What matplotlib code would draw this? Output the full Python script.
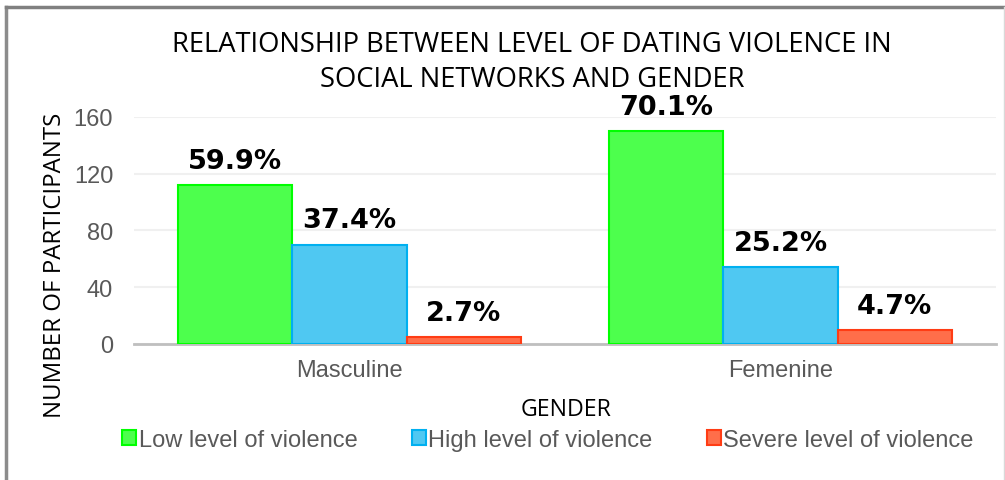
import matplotlib
matplotlib.use('Agg')
import matplotlib.pyplot as plt
import numpy as np
from matplotlib.patches import Rectangle

# data
genders = ['Masculine', 'Femenine']
levels = ['Low level of violence', 'High level of violence', 'Severe level of violence']
counts = {
    'Low level of violence': [112, 150],
    'High level of violence': [70, 54],
    'Severe level of violence': [5, 10],
}
pct_labels = {
    'Low level of violence': ['59.9%', '70.1%'],
    'High level of violence': ['37.4%', '25.2%'],
    'Severe level of violence': ['2.7%', '4.7%'],
}
yticks = [0, 40, 80, 120, 160]

fills = ['#4dff4d', '#4fc8f2', '#ff6e4a']
edges = ['#00ff00', '#00b0f0', '#ff3c14']

title_font = ['Liberation Sans Narrow', 'Open Sans', 'DejaVu Sans']
gray = '#595959'

fig = plt.figure(figsize=(10.05, 4.81), dpi=100)
ax = fig.add_axes([134 / 1005, 1 - 345 / 481, 862 / 1005, (345 - 117.7) / 481])

x = np.arange(len(genders))
width = 0.265
for i, lvl in enumerate(levels):
    pos = x + (i - 1) * width
    bars = ax.bar(pos, counts[lvl], width, color=fills[i], edgecolor=edges[i],
                  linewidth=1.5, label=lvl, zorder=3)
    for b, txt in zip(bars, pct_labels[lvl]):
        ax.annotate(txt, (b.get_x() + b.get_width() / 2, b.get_height()),
                    xytext=(0, 8), textcoords='offset points', ha='center', va='bottom',
                    fontsize=19.5, fontweight='bold', family='DejaVu Sans', color='black')

ax.set_xlim(-0.5, 1.5)
ax.set_ylim(0, 160)
ax.set_yticks(yticks)
ax.set_xticks(x)
ax.set_xticklabels(genders)
ax.grid(axis='y', color='#f0f0f0', linewidth=1.5, zorder=0)
ax.tick_params(axis='both', length=0, labelsize=17, labelcolor=gray)
ax.tick_params(axis='y', pad=15)
ax.tick_params(axis='x', pad=11)
for lab in ax.get_xticklabels() + ax.get_yticklabels():
    lab.set_family('Liberation Sans')
for s in ['top', 'right', 'left']:
    ax.spines[s].set_visible(False)
ax.spines['bottom'].set_color('#bfbfbf')
ax.spines['bottom'].set_linewidth(2)

fig.text(532 / 1005, 1 - 45 / 481, 'RELATIONSHIP BETWEEN LEVEL OF DATING VIOLENCE IN',
         ha='center', va='center', fontsize=19.7, family=title_font)
fig.text(532 / 1005, 1 - 80 / 481, 'SOCIAL NETWORKS AND GENDER',
         ha='center', va='center', fontsize=19.7, family=title_font)
fig.text(55 / 1005, 1 - 265 / 481, 'NUMBER OF PARTICIPANTS', rotation=90,
         ha='center', va='center', fontsize=17.3, family=title_font)
fig.text(566 / 1005, 1 - 410 / 481, 'GENDER', ha='center', va='center',
         fontsize=16.7, family=title_font)

handles = [Rectangle((0, 0), 1, 1, facecolor=fills[i], edgecolor=edges[i], linewidth=1.5)
           for i in range(3)]
leg = fig.legend(handles, levels, loc='center', bbox_to_anchor=(548 / 1005, 1 - 441 / 481),
                 ncol=3, frameon=False, handlelength=0.6, handleheight=0.6,
                 handletextpad=0.1, columnspacing=2.3,
                 prop={'family': 'Liberation Sans', 'size': 17})
for t in leg.get_texts():
    t.set_color(gray)

# chart frame
fig.add_artist(plt.Line2D([6 / 1005, 6 / 1005], [0, 1 - 8 / 481], color='#8c8c8c',
                          linewidth=2.5, transform=fig.transFigure))
fig.add_artist(plt.Line2D([6 / 1005, 1004 / 1005], [1 - 8 / 481, 1 - 8 / 481], color='#808080',
                          linewidth=2.5, transform=fig.transFigure))
fig.add_artist(plt.Line2D([1004 / 1005, 1004 / 1005], [0, 1 - 8 / 481], color='#d9d9d9',
                          linewidth=1, transform=fig.transFigure))

fig.savefig('out.png', dpi=100)
